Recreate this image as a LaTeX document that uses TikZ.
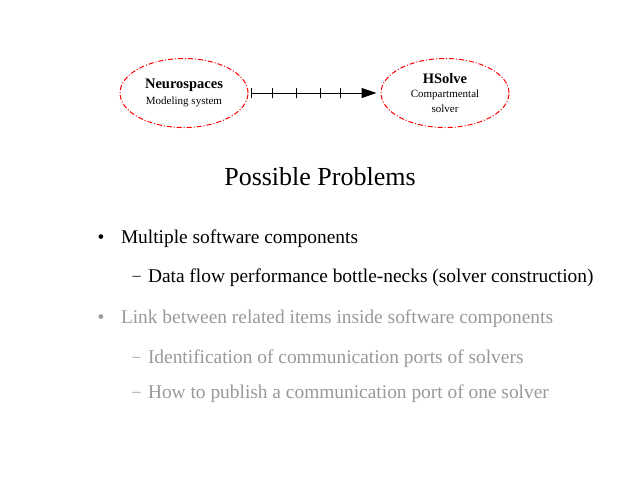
\documentclass[tikz,border=0pt]{standalone}
\usepackage{fontspec}
\setmainfont{Liberation Serif}
\usetikzlibrary{shapes.geometric, arrows.meta, positioning}
\definecolor{dimgray}{RGB}{153,153,153}

\begin{document}
\begin{tikzpicture}[
    x = 1pt, y = -1pt,
    > = {Triangle[length = 15pt, width = 10pt]},
    line width = 1pt,
    module/.style = {ellipse, draw = red, dash pattern = on 5pt off 2pt on 1pt off 2pt,
                     minimum width = 128pt, minimum height = 69pt, inner sep = 0pt,
                     align = center, font = \fontsize{11}{15}\selectfont},
    tick/.style   = {draw, minimum width = 0pt, minimum height = 10pt, inner sep = 0pt},
    heading/.style = {anchor = base, font = \fontsize{26}{30}\selectfont},
    point/.style  = {anchor = base west, inner sep = 0pt, font = \fontsize{19.4}{23}\selectfont},
    submark/.style = {anchor = base west, inner sep = 0pt, font = \fontsize{16}{20}\selectfont},
    faded/.style  = {text = dimgray}
]
\useasboundingbox (0,0) rectangle (640,480);

% Modules
\node[module] (neuro)  at (184,93) {{\fontsize{14.5}{18}\selectfont\bfseries Neurospaces}\\[1pt] Modeling system};
\node[module] (hsolve) at (445,93) {{\fontsize{14.5}{18}\selectfont\bfseries HSolve}\\[-1pt] Compartmental\\ solver};

% Connection
\draw[->, shorten < = 2pt, shorten > = 4pt] (neuro) --
    node[tick, pos = .022] {} node[tick, pos = .179] {} node[tick, pos = .366] {}
    node[tick, pos = .545] {} node[tick, pos = .70] {} (hsolve);

% Slide text
\node[heading] (head) at (320,185) {Possible Problems};

\node[point] (multi)  at (120.5,243) {Multiple software components};
\node[point] (flow)   at (147.5,282) {Data flow performance bottle-necks (solver construction)};
\node[point, faded] (link)   at (120.5,323) {Link between related items inside software components};
\node[point, faded] (ports)  at (147.5,363) {Identification of communication ports of solvers};
\node[point, faded] (publish) at (147.5,398) {How to publish a communication port of one solver};

\node[point]          (mMulti)   at (97,243)  {\textbullet};
\node[submark]        (mFlow)    at (132,280) {\textendash};
\node[point, faded]   (mLink)    at (97,323)  {\textbullet};
\node[submark, faded] (mPorts)   at (132,361) {\textendash};
\node[submark, faded] (mPublish) at (132,396) {\textendash};

\end{tikzpicture}
\end{document}
